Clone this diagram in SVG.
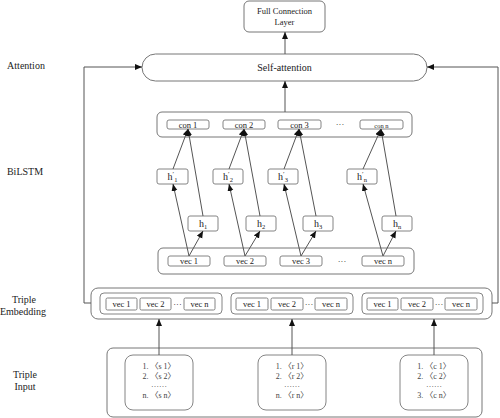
<svg xmlns="http://www.w3.org/2000/svg" width="500" height="418" viewBox="0 0 500 418">
<style>
text{font-family:"Liberation Serif","Noto Sans CJK SC",serif;fill:#222;text-anchor:middle}
.lbl{font-size:10px;text-anchor:middle}
.box{fill:#fff;stroke:#777;stroke-width:1}
.ib{fill:#fff;stroke:#777;stroke-width:0.9}
.c{fill:none;stroke:#555;stroke-width:1}
.s{font-size:8.5px}
.h{font-size:10px}
.sub{font-size:6.5px}
.pr{font-size:7px}
.inp{font-size:8px;fill:#444;text-anchor:middle}
</style>
<defs>
<marker id="ah" markerUnits="userSpaceOnUse" markerWidth="8" markerHeight="7" refX="7" refY="3" orient="auto">
<path d="M0,0 L7,3 L0,6 z" fill="#111"/>
</marker>
</defs>

<g id="labels">
<text class="lbl" x="26" y="69">Attention</text>
<text class="lbl" x="25" y="175">BiLSTM</text>
<text class="lbl" x="24" y="303">Triple</text>
<text class="lbl" x="23" y="315">Embedding</text>
<text class="lbl" x="25" y="378">Triple</text>
<text class="lbl" x="25" y="390">Input</text>
</g>

<g id="fcl">
<rect class="box" x="244" y="1" width="81" height="31" rx="5"/>
<text class="s" x="284.5" y="14">Full Connection</text>
<text class="s" x="284.5" y="25">Layer</text>
</g>

<g id="self-attention">
<rect class="box" x="142" y="54" width="285" height="27" rx="13.5"/>
<text x="284.5" y="71" font-size="10">Self-attention</text>
</g>

<g id="con-layer">
<rect class="box" x="157" y="112" width="255" height="25" rx="5"/>
<rect class="ib" x="167" y="120" width="42" height="9" rx="2"/>
<text class="s" x="188" y="127.8">con 1</text>
<rect class="ib" x="223" y="120" width="42" height="9" rx="2"/>
<text class="s" x="244" y="127.8">con 2</text>
<rect class="ib" x="278" y="120" width="43" height="9" rx="2"/>
<text class="s" x="299.5" y="127.8">con 3</text>
<text class="s" x="340" y="127">···</text>
<rect class="ib" x="360" y="120" width="43" height="9" rx="2"/>
<text x="381.5" y="127.5" font-size="6.5px">con n</text>
</g>

<g id="h-prime">
<rect class="ib" x="157" y="169" width="31" height="15" rx="2"/>
<text class="h" x="172.5" y="180">h<tspan class="pr" dy="-4">′</tspan><tspan class="sub" dy="6">1</tspan></text>
<rect class="ib" x="213" y="169" width="30" height="15" rx="2"/>
<text class="h" x="228" y="180">h<tspan class="pr" dy="-4">′</tspan><tspan class="sub" dy="6">2</tspan></text>
<rect class="ib" x="268" y="169" width="30" height="15" rx="2"/>
<text class="h" x="283" y="180">h<tspan class="pr" dy="-4">′</tspan><tspan class="sub" dy="6">3</tspan></text>
<rect class="ib" x="347" y="169" width="30" height="15" rx="2"/>
<text class="h" x="362" y="180">h<tspan class="pr" dy="-4">′</tspan><tspan class="sub" dy="6">n</tspan></text>
</g>

<g id="h">
<rect class="ib" x="188" y="216" width="30" height="15" rx="2"/>
<text class="h" x="203" y="227">h<tspan class="sub" dy="2">1</tspan></text>
<rect class="ib" x="246" y="216" width="30" height="15" rx="2"/>
<text class="h" x="261" y="227">h<tspan class="sub" dy="2">2</tspan></text>
<rect class="ib" x="303" y="216" width="30" height="15" rx="2"/>
<text class="h" x="318" y="227">h<tspan class="sub" dy="2">3</tspan></text>
<rect class="ib" x="382" y="216" width="30" height="15" rx="2"/>
<text class="h" x="397" y="227">h<tspan class="sub" dy="2">n</tspan></text>
</g>

<g id="vec-layer">
<rect class="box" x="158" y="248" width="256" height="26" rx="5"/>
<rect class="ib" x="168" y="256" width="42" height="10" rx="2"/>
<text class="s" x="189" y="264.3">vec 1</text>
<rect class="ib" x="224" y="256" width="42" height="10" rx="2"/>
<text class="s" x="245" y="264.3">vec 2</text>
<rect class="ib" x="280" y="256" width="42" height="10" rx="2"/>
<text class="s" x="301" y="264.3">vec 3</text>
<text class="s" x="342" y="264">···</text>
<rect class="ib" x="362" y="256" width="42" height="10" rx="2"/>
<text class="s" x="383" y="264.3">vec n</text>
</g>

<g id="triple-embedding">
<rect class="box" x="91" y="288" width="401" height="31" rx="7"/>
<rect class="ib" x="100" y="293" width="122" height="21" rx="4"/>
<rect class="ib" x="106" y="298" width="31" height="12" rx="1.5"/>
<text class="s" x="121.5" y="307">vec 1</text>
<rect class="ib" x="140" y="298" width="31" height="12" rx="1.5"/>
<text class="s" x="155.5" y="307">vec 2</text>
<text class="s" x="177.5" y="306.5">···</text>
<rect class="ib" x="184" y="298" width="31" height="12" rx="1.5"/>
<text class="s" x="199.5" y="307">vec n</text>
<rect class="ib" x="231" y="293" width="122" height="21" rx="4"/>
<rect class="ib" x="236" y="298" width="32" height="12" rx="1.5"/>
<text class="s" x="252" y="307">vec 1</text>
<rect class="ib" x="271" y="298" width="32" height="12" rx="1.5"/>
<text class="s" x="287" y="307">vec 2</text>
<text class="s" x="309" y="306.5">···</text>
<rect class="ib" x="315" y="298" width="32" height="12" rx="1.5"/>
<text class="s" x="331" y="307">vec n</text>
<rect class="ib" x="362" y="293" width="121" height="21" rx="4"/>
<rect class="ib" x="367" y="298" width="31" height="12" rx="1.5"/>
<text class="s" x="382.5" y="307">vec 1</text>
<rect class="ib" x="401" y="298" width="32" height="12" rx="1.5"/>
<text class="s" x="417" y="307">vec 2</text>
<text class="s" x="439" y="306.5">···</text>
<rect class="ib" x="445" y="298" width="32" height="12" rx="1.5"/>
<text class="s" x="461" y="307">vec n</text>
</g>

<g id="triple-input">
<rect class="box" x="107" y="348" width="375" height="69" rx="6"/>
<rect class="ib" x="125" y="355" width="68" height="55" rx="8"/>
<text class="inp" x="159" y="369">1. 〈s 1〉</text>
<text class="inp" x="159" y="379">2. 〈s 2〉</text>
<text class="inp" x="159" y="387">……</text>
<text class="inp" x="159" y="398">n. 〈s n〉</text>
<rect class="ib" x="258" y="355" width="68" height="55" rx="8"/>
<text class="inp" x="292" y="369">1. 〈r 1〉</text>
<text class="inp" x="292" y="379">2. 〈r 2〉</text>
<text class="inp" x="292" y="387">……</text>
<text class="inp" x="292" y="398">n. 〈r n〉</text>
<rect class="ib" x="400" y="355" width="68" height="55" rx="8"/>
<text class="inp" x="434" y="369">1. 〈c 1〉</text>
<text class="inp" x="434" y="379">2. 〈c 2〉</text>
<text class="inp" x="434" y="387">……</text>
<text class="inp" x="434" y="398">3. 〈c n〉</text>
</g>

<g id="connectors">
<line class="c" x1="285" y1="54" x2="285" y2="32" marker-end="url(#ah)"/>
<line class="c" x1="285" y1="112" x2="285" y2="81" marker-end="url(#ah)"/>
<path class="c" d="M91 303 H84 V67 H142" marker-end="url(#ah)"/>
<path class="c" d="M492 303 H498 V67 H427" marker-end="url(#ah)"/>
<line class="c" x1="159" y1="355" x2="159" y2="319" marker-end="url(#ah)"/>
<line class="c" x1="292" y1="355" x2="292" y2="319" marker-end="url(#ah)"/>
<line class="c" x1="434" y1="355" x2="434" y2="319" marker-end="url(#ah)"/>

<line class="c" x1="189" y1="256" x2="173" y2="184" marker-end="url(#ah)"/>
<line class="c" x1="189" y1="256" x2="203" y2="231" marker-end="url(#ah)"/>
<line class="c" x1="173" y1="169" x2="188" y2="129" marker-end="url(#ah)"/>
<line class="c" x1="203" y1="216" x2="188" y2="129" marker-end="url(#ah)"/>

<line class="c" x1="245" y1="256" x2="229" y2="184" marker-end="url(#ah)"/>
<line class="c" x1="245" y1="256" x2="260" y2="231" marker-end="url(#ah)"/>
<line class="c" x1="229" y1="169" x2="244" y2="129" marker-end="url(#ah)"/>
<line class="c" x1="260" y1="216" x2="244" y2="129" marker-end="url(#ah)"/>

<line class="c" x1="301" y1="256" x2="284" y2="184" marker-end="url(#ah)"/>
<line class="c" x1="301" y1="256" x2="316" y2="231" marker-end="url(#ah)"/>
<line class="c" x1="284" y1="169" x2="299" y2="129" marker-end="url(#ah)"/>
<line class="c" x1="316" y1="216" x2="299" y2="129" marker-end="url(#ah)"/>

<line class="c" x1="383" y1="256" x2="363" y2="184" marker-end="url(#ah)"/>
<line class="c" x1="383" y1="256" x2="396" y2="231" marker-end="url(#ah)"/>
<line class="c" x1="363" y1="169" x2="381" y2="129" marker-end="url(#ah)"/>
<line class="c" x1="396" y1="216" x2="381" y2="129" marker-end="url(#ah)"/>
</g>
</svg>
